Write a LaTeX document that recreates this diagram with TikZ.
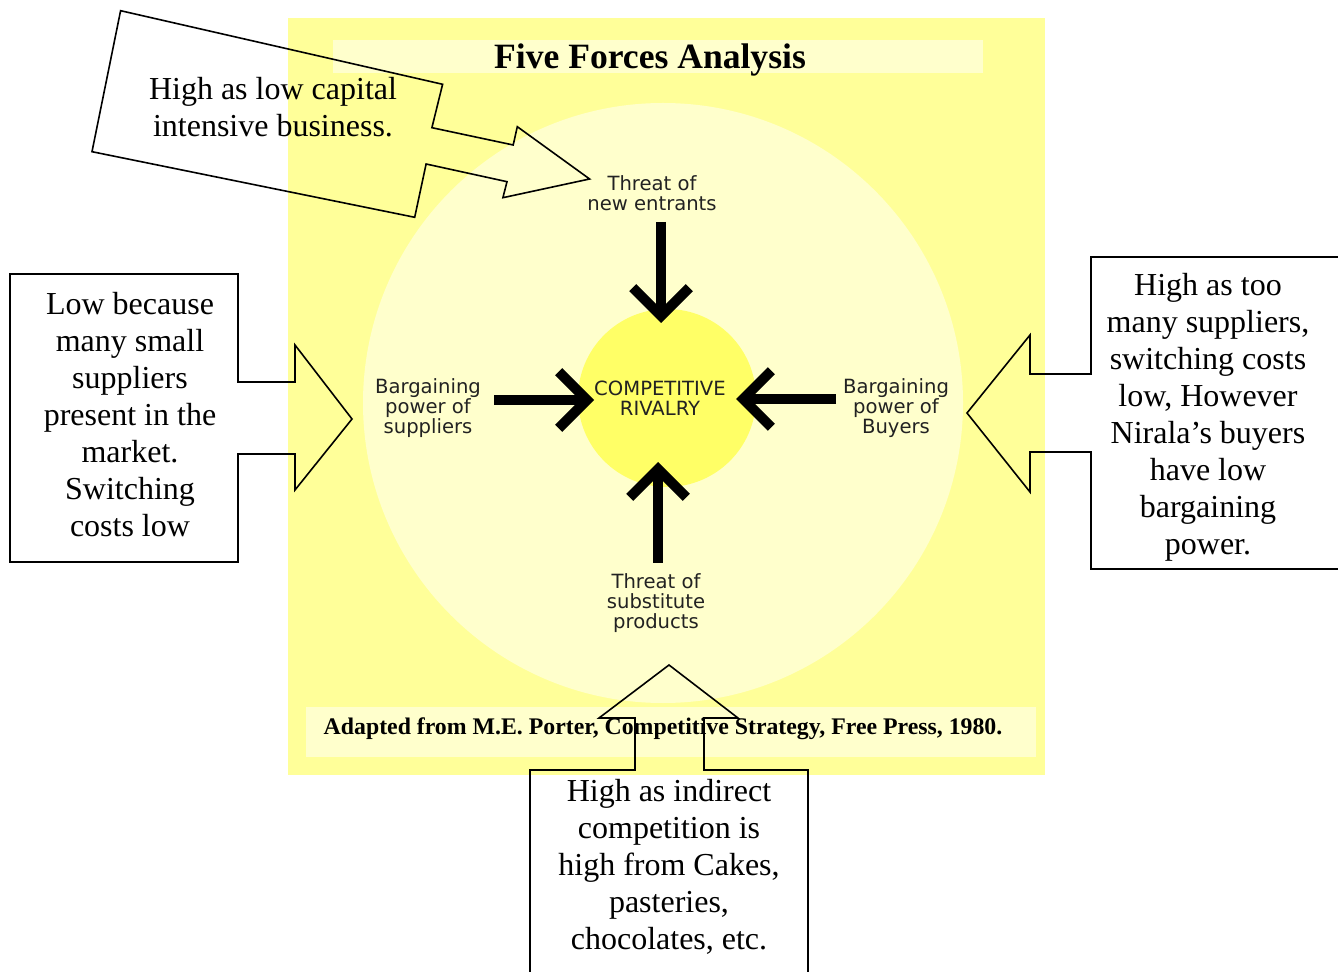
\documentclass[tikz,border=0pt]{standalone}
\usepackage{fontspec}
\setmainfont{Liberation Serif}
\newfontfamily\labelfont{DejaVu Sans}
\usetikzlibrary{arrows.meta}
\definecolor{panel}{HTML}{FFFF99}
\definecolor{halo}{HTML}{FFFFCC}
\definecolor{core}{HTML}{FFFF66}
\definecolor{labelgray}{HTML}{222222}

\begin{document}
\begin{tikzpicture}[x=0.5pt,y=-0.5pt,
  forcelabel/.style={font=\labelfont\fontsize{9.8}{9.9}\selectfont, text=labelgray, align=center, inner sep=0pt},
  note/.style={font=\fontsize{16}{18.5}\selectfont, align=center, inner sep=0pt},
  callout/.style={draw=black, line width=0.8pt, line join=miter},
  force/.style={draw=black, line width=5pt, -{Straight Barb[angle=90:20pt]}},
]
\useasboundingbox (0,0) rectangle (1338,972);

% Porter panel
\fill[panel] (288,18) rectangle (1045,775);
\fill[halo] (333,40) rectangle (983,73);
\node[font=\bfseries\fontsize{17.8}{20}\selectfont, inner sep=0pt] (title) at (650,60) {Five Forces Analysis};
\fill[halo] (663,403) circle [radius=150pt];
\fill[core] (667,398) circle [radius=44.5pt];
\fill[halo] (306,707) rectangle (1036,757);
\node[font=\bfseries\fontsize{11.9}{14}\selectfont, inner sep=0pt] (source) at (663,729)
  {Adapted from M.E. Porter, Competitive Strategy, Free Press, 1980.};

% force labels
\node[forcelabel] (rival) at (660,398) {COMPETITIVE\\RIVALRY};
\node[forcelabel] (entrants) at (652,193) {Threat of\\new entrants};
\node[forcelabel] (suppliers) at (428,408) {Bargaining\\power of\\suppliers};
\node[forcelabel] (buyers) at (896,408) {Bargaining\\power of\\Buyers};
\node[forcelabel] (substitutes) at (656,603) {Threat of\\substitute\\products};

% force arrows
\coordinate (entrantsTail) at (661,222);
\coordinate (entrantsTip) at (661,323);
\coordinate (suppliersTail) at (494,400);
\coordinate (suppliersTip) at (594,400);
\coordinate (buyersTail) at (836,399);
\coordinate (buyersTip) at (736,399);
\coordinate (substitutesTail) at (658,563);
\coordinate (substitutesTip) at (658,462);
\draw[force] (entrantsTail) -- (entrantsTip);
\draw[force] (suppliersTail) -- (suppliersTip);
\draw[force] (buyersTail) -- (buyersTip);
\draw[force] (substitutesTail) -- (substitutesTip);

% callout: new entrants
\draw[callout] (120.6,10.7) -- (442.6,84.3) -- (431.9,127.7) -- (513.2,145) -- (517.3,126.7)
  -- (589.6,179) -- (502.9,197.7) -- (507,181.7) -- (426.1,164) -- (414.7,217.3) -- (92,151.7) -- cycle;
\node[note] (noteEntrants) at (273,107) {High as low capital\\intensive business.};

% callout: suppliers
\draw[callout] (10,274) -- (238,274) -- (238,382) -- (295,382) -- (295,345) -- (352,419)
  -- (295,490) -- (295,454) -- (238,454) -- (238,562) -- (10,562) -- cycle;
\node[note] (noteSuppliers) at (130,415) {Low because\\many small\\suppliers\\present in the\\market.\\Switching\\costs low};

% callout: buyers
\draw[callout] (1339,257) -- (1091,257) -- (1091,374) -- (1030,374) -- (1030,335) -- (967,413)
  -- (1030,492) -- (1030,452) -- (1091,452) -- (1091,569) -- (1339,569);
\node[note] (noteBuyers) at (1208,417) {High as too\\many suppliers,\\switching costs\\low, However\\Nirala’s buyers\\have low\\bargaining\\power.};

% callout: substitutes
\draw[callout] (530,973) -- (530,770) -- (635,770) -- (635,718) -- (599,718) -- (669,665)
  -- (738,718) -- (704,718) -- (704,770) -- (808,770) -- (808,973);
\node[note] (noteSubstitutes) at (669,867) {High as indirect\\competition is\\high from Cakes,\\pasteries,\\chocolates, etc.};
\end{tikzpicture}
\end{document}
